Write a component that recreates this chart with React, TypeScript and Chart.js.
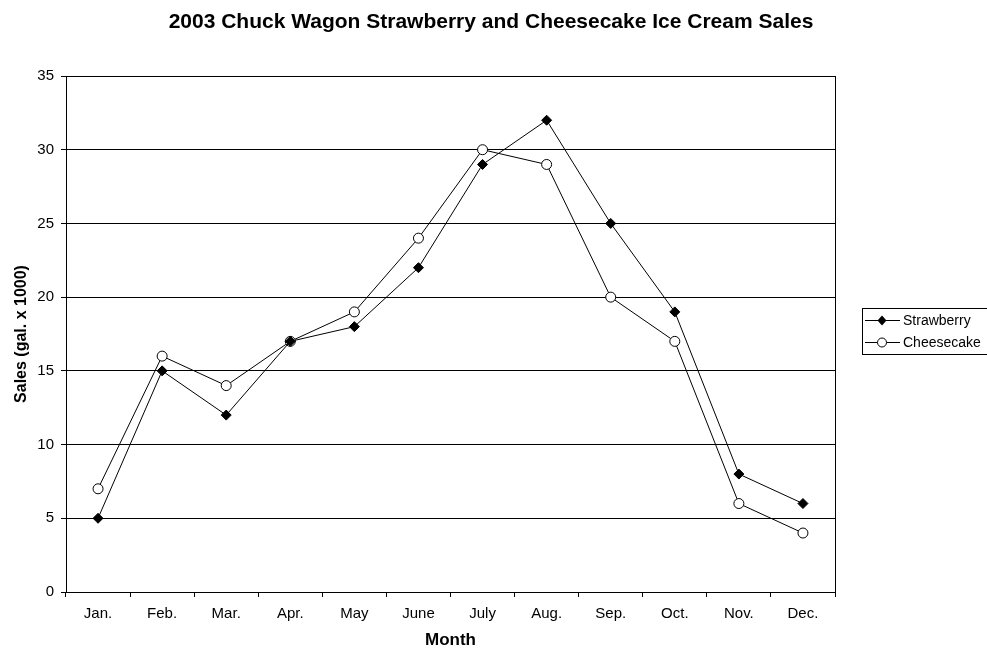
import React, { useEffect, useRef } from "react";
import { Chart, registerables } from "chart.js";

Chart.register(...registerables);

const months = ["Jan.", "Feb.", "Mar.", "Apr.", "May", "June", "July", "Aug.", "Sep.", "Oct.", "Nov.", "Dec."];
const strawberry = [5, 15, 12, 17, 18, 22, 29, 32, 25, 19, 8, 6];
const cheesecake = [7, 16, 14, 17, 19, 24, 30, 29, 20, 17, 6, 4];
const chartTitle = "2003 Chuck Wagon Strawberry and Cheesecake Ice Cream Sales";
const xTitle = "Month";
const yTitle = "Sales (gal. x 1000)";

const FONT = "Arial, 'Liberation Sans', sans-serif";

const decorPlugin = {
  id: "decor",
  afterDraw(chart: any) {
    const ctx = chart.ctx;
    const a = chart.chartArea;
    ctx.save();
    ctx.strokeStyle = "#000";
    ctx.lineWidth = 1;
    ctx.strokeRect(Math.round(a.left) + 0.5, Math.round(a.top) + 0.5, Math.round(a.right - a.left), Math.round(a.bottom - a.top));
    ctx.fillStyle = "#000";
    ctx.font = `bold 21px ${FONT}`;
    ctx.textAlign = "center";
    ctx.textBaseline = "alphabetic";
    ctx.fillText(chartTitle, 491, 28);
    ctx.font = `bold 17px ${FONT}`;
    ctx.fillText(xTitle, (a.left + a.right) / 2, 645);
    ctx.save();
    ctx.translate(22, (a.top + a.bottom) / 2);
    ctx.rotate(-Math.PI / 2);
    ctx.font = `bold 16px ${FONT}`;
    ctx.textBaseline = "middle";
    ctx.fillText(yTitle, 0, 0);
    ctx.restore();
    ctx.strokeRect(862.5, 308.5, 130, 46);
    const rows = [
      { label: "Strawberry", y: 320, style: "diamond" },
      { label: "Cheesecake", y: 342, style: "circle" },
    ];
    ctx.font = `14px ${FONT}`;
    ctx.textAlign = "left";
    ctx.textBaseline = "middle";
    for (const r of rows) {
      ctx.beginPath();
      ctx.moveTo(865, r.y + 0.5);
      ctx.lineTo(900, r.y + 0.5);
      ctx.stroke();
      if (r.style === "diamond") {
        ctx.beginPath();
        ctx.moveTo(882, r.y - 4.5);
        ctx.lineTo(886.5, r.y + 0.5);
        ctx.lineTo(882, r.y + 5.5);
        ctx.lineTo(877.5, r.y + 0.5);
        ctx.closePath();
        ctx.fillStyle = "#000";
        ctx.fill();
      } else {
        ctx.beginPath();
        ctx.arc(882, r.y + 0.5, 4.5, 0, Math.PI * 2);
        ctx.fillStyle = "#fff";
        ctx.fill();
        ctx.stroke();
      }
      ctx.fillStyle = "#000";
      ctx.fillText(r.label, 903, r.y + 1);
    }
    ctx.restore();
  },
};

export default function App() {
  const ref = useRef<HTMLCanvasElement>(null);
  useEffect(() => {
    document.body.style.margin = "0";
    const chart = new Chart(ref.current!, {
      type: "line",
      data: {
        labels: months,
        datasets: [
          {
            label: "Strawberry",
            data: strawberry,
            borderColor: "#000",
            backgroundColor: "#000",
            borderWidth: 1,
            pointStyle: "rectRot",
            pointRadius: 5,
            pointBorderWidth: 1,
            tension: 0,
          },
          {
            label: "Cheesecake",
            data: cheesecake,
            borderColor: "#000",
            backgroundColor: "#fff",
            borderWidth: 1,
            pointStyle: "circle",
            pointRadius: 5,
            pointBorderWidth: 1,
            tension: 0,
          },
        ],
      },
      options: {
        animation: false,
        responsive: false,
        layout: { padding: { left: 0, top: 76, right: 152, bottom: 0 } },
        plugins: { legend: { display: false }, title: { display: false }, tooltip: { enabled: false } },
        scales: {
          x: {
            offset: true,
            grid: { offset: true, drawOnChartArea: false, drawTicks: true, tickLength: 5, color: "#000" },
            border: { display: true, color: "#000", width: 1 },
            ticks: { color: "#000", font: { family: FONT, size: 15 }, padding: 8, maxRotation: 0, autoSkip: false },
            afterFit(scale: any) {
              scale.height = 56;
            },
          },
          y: {
            min: 0,
            max: 35,
            ticks: { stepSize: 5, color: "#000", font: { family: FONT, size: 15 }, padding: 7 },
            grid: { color: "#000", tickLength: 5, lineWidth: 1 },
            border: { display: true, color: "#000", width: 1 },
            afterFit(scale: any) {
              scale.width = 66;
            },
          },
        },
      },
      plugins: [decorPlugin],
    });
    return () => chart.destroy();
  }, []);
  return (
    <div style={{ width: 987, height: 648 }}>
      <canvas ref={ref} width={987} height={648} />
    </div>
  );
}
